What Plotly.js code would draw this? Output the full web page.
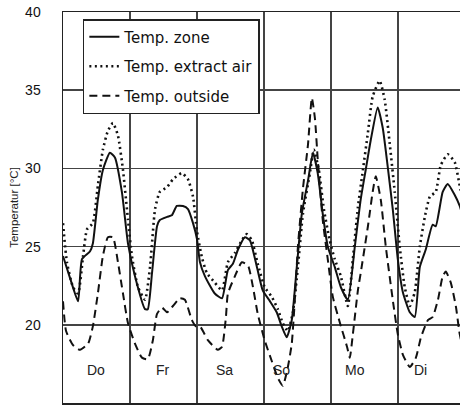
<!DOCTYPE html>
<html>
<head>
<meta charset="utf-8">
<script src="https://cdn.plot.ly/plotly-3.0.1.min.js"></script>
<style>html,body{margin:0;padding:0;background:#fff;}#chart{width:460px;height:409px;}</style>
</head>
<body>
<div id="chart"></div>
<script>
// Hours since start of Thursday (Do)
const zoneHours = [0,2.5,5.4,6.8,9.7,10.7,12.5,14.3,16.8,18.6,21.1,23.3,25.8,29.4,30.4,31.9,33.7,34.7,37.3,39.0,40.8,43.0,44.8,46.6,48.0,49.1,50.9,54.4,57.0,59.1,60.9,62.7,65.2,67.0,69.5,71.6,74.2,76.6,78.4,80.2,82.0,83.8,85.6,87.8,89.6,91.3,93.1,94.9,97.4,99.6,102.1,104.6,106.7,108.5,110.3,112.8,114.6,116.4,118.2,120.0,121.8,124.3,126.1,127.9,130.0,132.5,133.6,136.1,137.9,140.4,142.2,144.0];
const zoneTemp  = [24.4,23.0,21.5,24.2,24.7,25.2,28.0,29.9,31.0,30.7,28.5,25.2,23.1,21.0,21.0,23.3,26.3,26.7,26.9,27.0,27.6,27.6,27.4,26.5,25.5,24.0,23.1,22.0,21.7,23.5,23.9,24.8,25.6,25.4,23.7,22.2,21.5,20.8,19.9,19.2,20.3,23.7,27.1,29.2,31.0,29.7,27.1,25.0,23.7,22.4,21.6,25.0,28.0,29.9,31.8,33.9,32.6,30.1,27.4,24.2,22.1,20.8,20.5,23.7,24.8,26.4,26.3,28.5,29.0,28.3,27.6,26.5];

const extractHours = [0,1.4,3.6,5.4,7.2,8.6,10.7,12.5,14.3,16.1,17.9,19.7,21.5,23.3,24.7,26.9,29.4,31.2,33.0,34.7,37.3,39.4,42.6,44.8,46.6,48.0,49.8,51.6,54.4,57.0,59.1,61.6,64.1,65.9,67.7,69.8,72.3,74.8,77.0,78.8,80.6,82.4,84.2,86.0,88.5,89.9,91.7,93.5,95.6,97.4,99.6,102.1,103.9,105.7,107.5,109.3,111.0,113.5,115.3,117.1,118.9,120.7,122.5,124.3,126.1,127.9,129.7,131.5,133.6,135.4,137.9,140.4,142.2,144.0];
const extractTemp  = [26.5,24.0,22.4,22.0,24.4,26.1,26.5,28.9,31.2,32.4,32.9,32.1,29.9,26.7,24.4,22.4,21.6,23.7,27.4,28.5,28.8,29.3,29.7,29.3,28.2,26.0,24.3,23.3,22.7,22.2,24.0,24.6,25.4,25.8,25.4,23.9,22.4,21.8,21.0,20.1,19.6,20.8,23.7,27.1,29.7,31.2,29.9,27.4,25.4,24.2,23.1,21.2,24.2,27.5,29.9,32.3,34.6,35.6,34.4,31.6,28.5,25.0,22.4,21.2,22.1,25.0,26.9,28.2,28.5,30.2,30.9,30.4,28.9,27.5];

const outsideHours = [0,1.1,3.6,6.1,9.0,10.7,12.5,14.3,16.1,17.9,19.7,21.5,23.3,25.8,28.3,30.4,32.2,33.7,35.5,37.3,39.4,41.9,43.7,46.2,47.7,49.1,52.0,55.5,57.0,58.4,59.1,61.6,64.1,66.3,68.1,69.8,72.3,74.8,77.0,78.8,80.6,82.0,83.1,84.2,86.0,87.8,89.2,90.3,91.3,93.1,94.9,96.7,99.3,101.8,102.8,103.9,105.7,106.7,109.3,111.0,112.1,113.9,115.7,118.2,120.0,121.8,124.3,126.5,128.3,130.8,132.5,134.4,136.1,137.2,139.0,140.8,142.2,144.0];
const outsideTemp  = [21.5,19.6,18.7,18.4,18.8,19.9,22.0,24.4,25.6,25.6,24.0,22.0,20.1,18.8,17.9,17.8,19.0,20.7,21.1,20.8,21.2,21.7,21.6,20.3,19.9,19.9,19.0,18.4,18.6,20.5,22.0,23.1,24.0,23.8,22.4,20.7,19.0,17.7,16.6,16.1,17.3,18.8,21.6,25.0,28.7,31.5,34.5,33.2,30.6,26.7,24.2,21.8,20.1,18.6,17.9,19.4,22.2,23.3,26.3,28.5,29.5,28.0,25.0,21.6,19.4,18.1,17.3,17.9,19.2,20.3,20.5,21.6,23.1,23.4,22.7,21.2,19.4,18.0];

const seriesNames = ['Temp. zone', 'Temp. extract air', 'Temp. outside'];
const dayLabels = ['Do', 'Fr', 'Sa', 'So', 'Mo', 'Di'];
const dayLabelHours = [11.8, 35.8, 58.0, 78.4, 104.6, 128.0];
const dayLabelTemp = 17.1;
const dayBoundaries = [0, 24, 48, 72, 96, 120, 144];
const yTicks = [15, 20, 25, 30, 35, 40];

const font = 'Liberation Sans, Arial, sans-serif';

const traces = [
  {x: zoneHours, y: zoneTemp, name: seriesNames[0], legendgroup: 'a', mode: 'lines',
   line: {color: '#111', width: 2, shape: 'spline', smoothing: 0.5}},
  {x: extractHours, y: extractTemp, name: seriesNames[1], legendgroup: 'b', mode: 'lines',
   line: {color: '#111', width: 2.6, dash: '2px,3.5px', shape: 'spline', smoothing: 0.5}},
  {x: outsideHours, y: outsideTemp, name: seriesNames[2], legendgroup: 'c', mode: 'lines',
   line: {color: '#111', width: 2, dash: '8px,5px', shape: 'spline', smoothing: 0.5}}
];

const annotations = dayLabels.map((t, i) => ({
  x: dayLabelHours[i], y: dayLabelTemp, xref: 'x', yref: 'y', text: t, showarrow: false,
  font: {family: font, size: 14, color: '#222'}
}));

const layout = {
  width: 460, height: 409,
  margin: {l: 63, r: 0, t: 12, b: 6, pad: 0},
  paper_bgcolor: '#fff', plot_bgcolor: '#fff',
  showlegend: true,
  legend: {
    x: 0.05, y: 0.982, xanchor: 'left', yanchor: 'top',
    bgcolor: '#fff', bordercolor: '#222', borderwidth: 1.5,
    font: {family: 'DejaVu Sans, sans-serif', size: 15, color: '#111'},
    tracegroupgap: 7, itemwidth: 30
  },
  xaxis: {
    range: [0, 142.3], tickvals: dayBoundaries, showticklabels: false, ticks: '',
    showgrid: true, gridcolor: '#444', gridwidth: 1.5,
    showline: true, linecolor: '#222', linewidth: 1.5, mirror: true, zeroline: false
  },
  yaxis: {
    range: [15, 40], tickvals: yTicks, ticks: 'outside', ticklen: 18, tickcolor: 'rgba(0,0,0,0)',
    tickfont: {family: font, size: 14, color: '#111'},
    showgrid: true, gridcolor: '#444', gridwidth: 1.5,
    showline: true, linecolor: '#222', linewidth: 1.5, zeroline: false,
    title: {text: 'Temperatur [°C]', font: {family: font, size: 11.5, color: '#222'}, standoff: 4}
  },
  annotations: annotations
};

Plotly.newPlot('chart', traces, layout, {displayModeBar: false, staticPlot: true});
</script>
</body>
</html>
